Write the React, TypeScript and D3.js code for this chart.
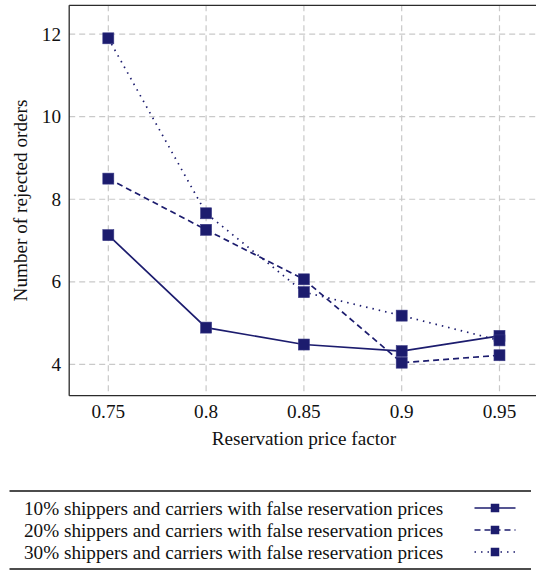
import React from "react";
import * as d3 from "d3";

// reservation price factor on the x axis
const factors = [0.75, 0.8, 0.85, 0.9, 0.95];

// number of rejected orders, one array per share of false prices
const rejected10 = [7.13, 4.89, 4.48, 4.32, 4.69];
const rejected20 = [8.5, 7.26, 6.06, 4.04, 4.22];
const rejected30 = [11.9, 7.66, 5.75, 5.18, 4.58];

const seriesNames = [
  "10% shippers and carriers with false reservation prices",
  "20% shippers and carriers with false reservation prices",
  "30% shippers and carriers with false reservation prices",
];

const xTicks = [0.75, 0.8, 0.85, 0.9, 0.95];
const yTicks = [4, 6, 8, 10, 12];

const color = "#1c1c6e";
const font = "Liberation Serif";

const size = {
  width: 536,
  height: 570,
  left: 69.2,
  right: 538.6,
  top: 5.3,
  bottom: 395.7,
};

const dashes = [null, "6 4", "1.5 5"];

const App = () => {
  const x = d3.scaleLinear().domain([0.73, 0.97]).range([size.left, size.right]);
  const y = d3.scaleLinear().domain([3.24, 12.7]).range([size.bottom, size.top]);

  const series = [rejected10, rejected20, rejected30];
  const line = d3
    .line<number>()
    .x((_, i) => x(factors[i]))
    .y((d) => y(d));

  const fmt = d3.format("");
  const marker = 11;
  const legendRows = [508, 530, 552];
  const textStyle = { fontFamily: font, fontSize: 19.2, fill: "#111" };

  return (
    <div style={{ position: "absolute", left: 0, top: 0 }}>
      <svg width={size.width} height={size.height} style={{ display: "block" }}>
        <rect width={size.width} height={size.height} fill="white" />

        {/* grid */}
        <g stroke="#c9c9c9" strokeWidth={1.2} strokeDasharray="6 4">
          {xTicks.map((t) => (
            <line key={"gx" + t} x1={x(t)} x2={x(t)} y1={size.top} y2={size.bottom} />
          ))}
          {yTicks.map((t) => (
            <line key={"gy" + t} x1={size.left} x2={size.right} y1={y(t)} y2={y(t)} />
          ))}
        </g>

        {/* axes frame */}
        <g stroke="#2b2b2b" strokeWidth={1.3} fill="none">
          <line x1={size.left} x2={size.right} y1={size.top} y2={size.top} />
          <line x1={size.left} x2={size.right} y1={size.bottom} y2={size.bottom} />
          <line x1={size.left} x2={size.left} y1={size.top} y2={size.bottom} />
        </g>

        {/* tick labels */}
        <g style={textStyle}>
          {xTicks.map((t) => (
            <text key={"tx" + t} x={x(t)} y={418} textAnchor="middle">
              {fmt(t)}
            </text>
          ))}
          {yTicks.map((t) => (
            <text key={"ty" + t} x={61} y={y(t)} dy="0.33em" textAnchor="end">
              {t}
            </text>
          ))}
        </g>

        <text
          x={(size.left + size.right) / 2}
          y={444.5}
          textAnchor="middle"
          style={textStyle}
        >
          Reservation price factor
        </text>
        <text
          transform={`translate(27 ${(size.top + size.bottom) / 2}) rotate(-90)`}
          textAnchor="middle"
          style={textStyle}
        >
          Number of rejected orders
        </text>

        {/* series */}
        {series.map((s, k) => (
          <g key={"s" + k}>
            <path
              d={line(s) || ""}
              fill="none"
              stroke={color}
              strokeWidth={1.7}
              strokeDasharray={dashes[k] || undefined}
            />
            {s.map((v, i) => (
              <rect
                key={i}
                x={x(factors[i]) - marker / 2}
                y={y(v) - marker / 2}
                width={marker}
                height={marker}
                fill={color}
                stroke="#3a3a86"
                strokeWidth={0.6}
              />
            ))}
          </g>
        ))}

        {/* legend */}
        <g>
          <line x1={9.5} x2={531} y1={491} y2={491} stroke="#111" strokeWidth={1.5} />
          <line x1={9.5} x2={531} y1={569} y2={569} stroke="#111" strokeWidth={1.5} />
          {seriesNames.map((name, k) => (
            <g key={"l" + k}>
              <text x={24} y={legendRows[k] + 6.5} style={textStyle}>
                {name}
              </text>
              <line
                x1={474.5}
                x2={515.5}
                y1={legendRows[k]}
                y2={legendRows[k]}
                stroke={color}
                strokeWidth={1.7}
                strokeDasharray={dashes[k] || undefined}
              />
              <rect
                x={495 - 4.25}
                y={legendRows[k] - 4.25}
                width={8.5}
                height={8.5}
                fill={color}
              />
            </g>
          ))}
        </g>
      </svg>
    </div>
  );
};

export default App;
